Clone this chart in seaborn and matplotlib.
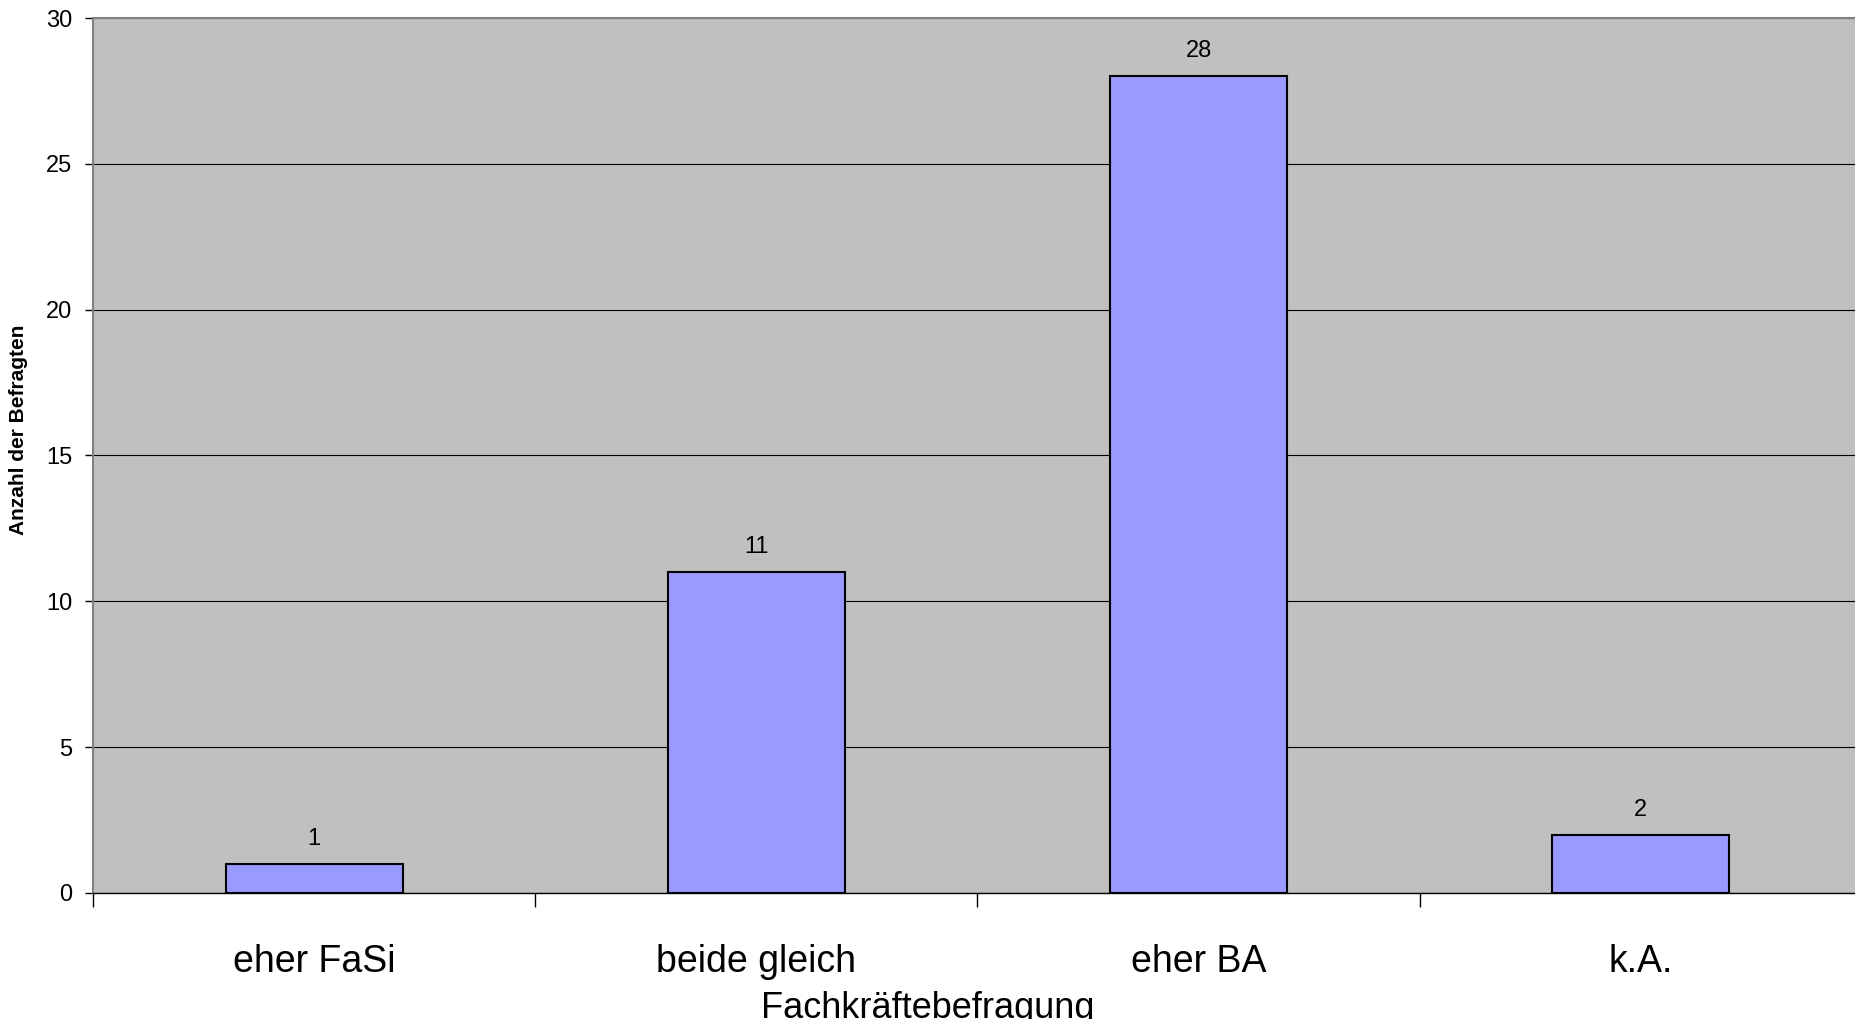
import matplotlib
matplotlib.use("Agg")
import matplotlib.pyplot as plt
import seaborn as sns

# data
categories = ["eher FaSi", "beide gleich", "eher BA", "k.A."]
counts = [1, 11, 28, 2]
y_ticks = [0, 5, 10, 15, 20, 25, 30]

sns.set_style("ticks")
plt.rcParams["font.family"] = ["Liberation Sans", "DejaVu Sans"]
plt.rcParams["text.color"] = "black"
plt.rcParams["axes.labelcolor"] = "black"
plt.rcParams["xtick.color"] = "black"
plt.rcParams["ytick.color"] = "black"

fig = plt.figure(figsize=(18.55, 10.19), dpi=100)
# axes runs slightly past the right edge, like the cropped original
ax = fig.add_axes([0.0501, 0.1237, 0.9537, 0.8586])
ax.set_facecolor("#C0C0C0")

sns.barplot(x=categories, y=counts, color="#9999FF", saturation=1,
            edgecolor="black", linewidth=1.5, width=0.4, ax=ax, zorder=3)

ax.set_xlim(-0.5, 3.5)
ax.set_ylim(0, 30)
ax.set_yticks(y_ticks)
ax.yaxis.grid(True, color="black", linewidth=0.8)
ax.set_axisbelow(True)

# bar value labels
ax.bar_label(ax.containers[0], labels=[str(c) for c in counts],
             padding=10, fontsize=17, color="black")

# category boundary ticks below the axis
ax.set_xticks([-0.5, 0.5, 1.5, 2.5, 3.5], minor=True)
ax.tick_params(axis="x", which="minor", length=10, width=1, color="black")
ax.tick_params(axis="x", which="major", length=0, pad=37, labelsize=27,
               labelcolor="black")
ax.tick_params(axis="y", length=6, width=1, color="black", pad=9, labelsize=17,
               labelcolor="black")

for side in ["left", "top", "right"]:
    ax.spines[side].set_color("#808080")
    ax.spines[side].set_linewidth(1.5)
ax.spines["bottom"].set_color("black")
ax.spines["bottom"].set_linewidth(1)

ax.set_ylabel("Anzahl der Befragten", fontsize=15, fontweight="bold")
ax.yaxis.set_label_coords(-0.0418, 0.529)
ax.yaxis.label.set_va("center")

# the original image cuts this label off at the bottom edge
ax.set_xlabel("Fachkräftebefragung", fontsize=26)
ax.xaxis.set_label_coords(0.4717, -0.1429)
ax.xaxis.label.set_va("baseline")

plt.savefig("out.png", dpi=100)
